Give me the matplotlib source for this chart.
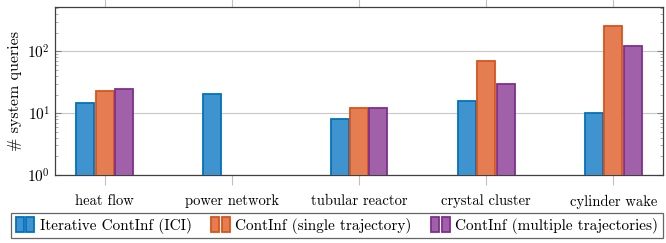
import numpy as np
import matplotlib
matplotlib.use("Agg")
import matplotlib.pyplot as plt
from matplotlib.patches import Rectangle
from matplotlib.legend_handler import HandlerBase

plt.rcParams['font.family'] = 'serif'
plt.rcParams['font.serif'] = ['cmr10', 'DejaVu Serif']
plt.rcParams['mathtext.fontset'] = 'cm'
plt.rcParams['axes.formatter.use_mathtext'] = True

categories = ['heat flow', 'power network', 'tubular reactor', 'crystal cluster', 'cylinder wake']
series = ['Iterative ContInf (ICI)', 'ContInf (single trajectory)', 'ContInf (multiple trajectories)']
ici = [14.5, 20.5, 8, 16, 10]
single = [22.5, np.nan, 12, 71, 255]
multiple = [24.5, np.nan, 12, 30, 122]

edges = ['#0072BD', '#D95319', '#7E2F8E']
faces = ['#3F94D0', '#E47E52', '#A061A8']


class TwoBars(HandlerBase):
    def create_artists(self, legend, orig, xd, yd, w, h, fontsize, trans):
        fc = orig.get_facecolor()
        ec = orig.get_edgecolor()
        bw = w * 0.4
        out = []
        for x0 in (0, w * 0.55):
            r = Rectangle((x0 - xd, -yd - h * 0.25), bw, h * 1.45, facecolor=fc,
                          edgecolor=ec, lw=1.3, transform=trans)
            out.append(r)
        return out


fig = plt.figure(figsize=(6.66, 2.43), dpi=100)
ax = fig.add_axes([0.0826, 0.28, 0.9129, 0.691])

x = np.arange(len(categories))
w = 0.142
off = 0.153
handles = []
for i, vals in enumerate([ici, single, multiple]):
    b = ax.bar(x + (i - 1) * off, vals, w, facecolor=faces[i],
               edgecolor=edges[i], lw=1.3, label=series[i], zorder=3)
    handles.append(b.patches[0])

ax.set_yscale('log')
ax.set_ylim(1, 520)
ax.set_xlim(-0.39, 4.39)
ax.set_xticks(x)
ax.set_xticklabels(categories, fontsize=10.5)
ax.set_ylabel('# system queries', fontsize=11.5, labelpad=4)
ax.yaxis.grid(True, which='major', color='#c8c8c8', lw=0.8, zorder=0)
ax.tick_params(axis='x', direction='out', top=True, length=7, color='#c0c0c0', width=0.8, pad=7)
ax.tick_params(axis='y', which='major', direction='in', right=True, length=4, color='#808080', labelsize=11)
ax.tick_params(axis='y', which='minor', direction='in', right=True, length=2.5, color='#a0a0a0', width=0.6)
for s in ax.spines.values():
    s.set_color('#404040')
    s.set_linewidth(0.9)

leg = fig.legend(handles, series, handler_map={h: TwoBars() for h in handles},
                 loc='upper center', bbox_to_anchor=(0.506, 0.123), ncol=3, fontsize=11,
                 frameon=True, fancybox=False, edgecolor='#404040', handlelength=1.25,
                 handletextpad=0.3, columnspacing=1.3, borderpad=0.3, borderaxespad=0)
leg.get_frame().set_linewidth(0.9)

fig.savefig('out.png', dpi=100)
